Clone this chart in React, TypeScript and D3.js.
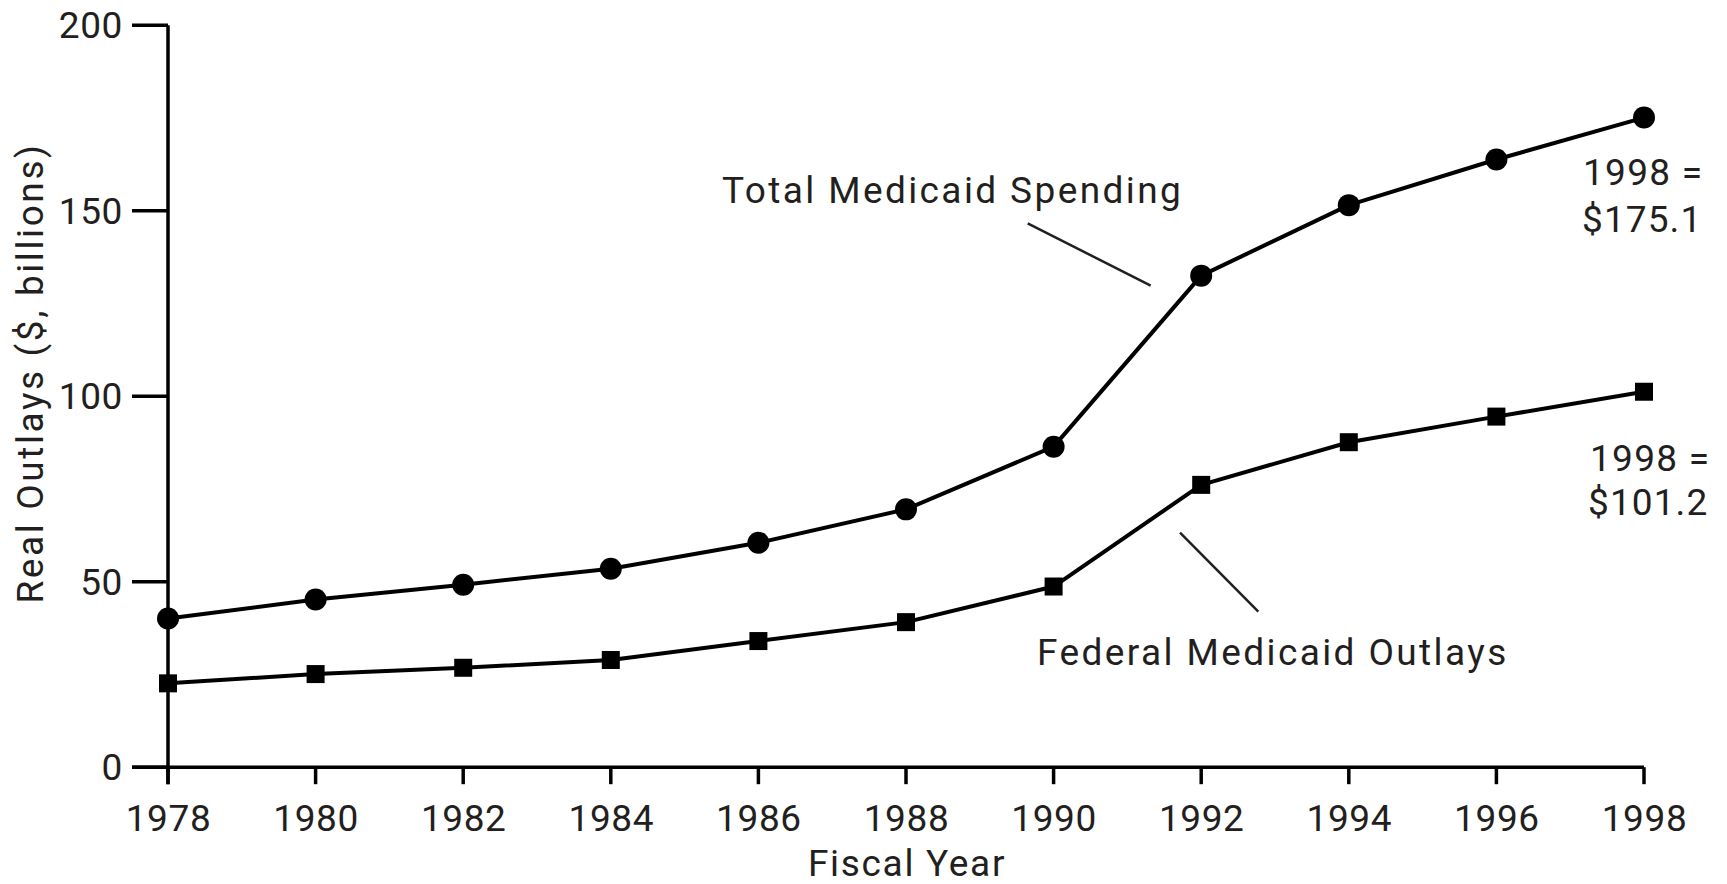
import React from "react";
import * as d3 from "d3";

const years = [1978, 1980, 1982, 1984, 1986, 1988, 1990, 1992, 1994, 1996, 1998];
const totalSpending = [40.1, 45.2, 49.2, 53.5, 60.5, 69.5, 86.4, 132.5, 151.5, 163.8, 175.1];
const federalOutlays = [22.6, 25.1, 26.8, 28.9, 34.0, 39.1, 48.7, 76.1, 87.6, 94.5, 101.2];
const yTicks = [0, 50, 100, 150, 200];
const xTickLabels = ["1978", "1980", "1982", "1984", "1986", "1988", "1990", "1992", "1994", "1996", "1998"];

const W = 1727;
const H = 884;
const FONT = "Roboto, 'Noto Sans', Arial, sans-serif";
const TEXT = "#231f20";

export default function App() {
  const x = d3.scaleLinear().domain([1978, 1998]).range([168, 1644]);
  const y = d3.scaleLinear().domain([0, 200]).range([767.2, 25.2]);
  const line = d3
    .line<number>()
    .x((_, i) => x(years[i]))
    .y((d) => y(d));

  const fs = 37;
  return (
    <svg
      width={W}
      height={H}
      style={{ position: "absolute", left: 0, top: 0, background: "#fff" }}
      fontFamily={FONT}
    >
      <rect width={W} height={H} fill="#fff" />
      {/* y axis */}
      <line x1={x(1978)} x2={x(1978)} y1={y(200)} y2={y(0) + 17} stroke="#000" strokeWidth={3.5} />
      {yTicks.map((t) => (
        <g key={t}>
          <line x1={132} x2={x(1978)} y1={y(t)} y2={y(t)} stroke="#000" strokeWidth={3.5} />
          <text x={123} y={y(t) + 13} textAnchor="end" fontSize={fs} fill={TEXT} letterSpacing={0.6}>
            {t}
          </text>
        </g>
      ))}
      {/* x axis */}
      <line x1={132} x2={x(1998)} y1={y(0)} y2={y(0)} stroke="#000" strokeWidth={3.5} />
      {years.map((yr, i) => (
        <g key={yr}>
          <line x1={x(yr)} x2={x(yr)} y1={y(0)} y2={y(0) + 17} stroke="#000" strokeWidth={3.5} />
          <text x={x(yr) + 0.5} y={830.7} textAnchor="middle" fontSize={fs} fill={TEXT} letterSpacing={0.6}>
            {xTickLabels[i]}
          </text>
        </g>
      ))}
      <text x={907} y={876} textAnchor="middle" fontSize={fs} fill={TEXT} letterSpacing={1.7}>
        Fiscal Year
      </text>
      <text
        transform={`translate(43,373) rotate(-90)`}
        textAnchor="middle"
        fontSize={fs}
        fill={TEXT}
        letterSpacing={2.6}
      >
        Real Outlays ($, billions)
      </text>

      {/* series */}
      <path d={line(totalSpending) || ""} fill="none" stroke="#000" strokeWidth={4} strokeLinejoin="round" />
      <path d={line(federalOutlays) || ""} fill="none" stroke="#000" strokeWidth={4} strokeLinejoin="round" />
      {totalSpending.map((v, i) => (
        <circle key={"c" + i} cx={x(years[i])} cy={y(v)} r={11} fill="#000" />
      ))}
      {federalOutlays.map((v, i) => (
        <rect key={"s" + i} x={x(years[i]) - 9} y={y(v) - 9} width={18} height={18} fill="#000" />
      ))}

      {/* annotations */}
      <text x={722} y={203.3} fontSize={fs} fill={TEXT} letterSpacing={2.4}>
        Total Medicaid Spending
      </text>
      <line x1={1027.7} y1={223.3} x2={1150.7} y2={285.7} stroke={TEXT} strokeWidth={2.5} />
      <text x={1037} y={664.5} fontSize={fs} fill={TEXT} letterSpacing={2.4}>
        Federal Medicaid Outlays
      </text>
      <line x1={1180} y1={532.7} x2={1258.3} y2={611.7} stroke={TEXT} strokeWidth={2.5} />

      <text x={1583} y={185} fontSize={fs} fill={TEXT} letterSpacing={1.3}>
        1998 =
      </text>
      <text x={1582} y={231.7} fontSize={fs} fill={TEXT} letterSpacing={1.1}>
        $175.1
      </text>
      <text x={1590} y={470.7} fontSize={fs} fill={TEXT} letterSpacing={1.3}>
        1998 =
      </text>
      <text x={1588} y={515} fontSize={fs} fill={TEXT} letterSpacing={1.1}>
        $101.2
      </text>
    </svg>
  );
}
